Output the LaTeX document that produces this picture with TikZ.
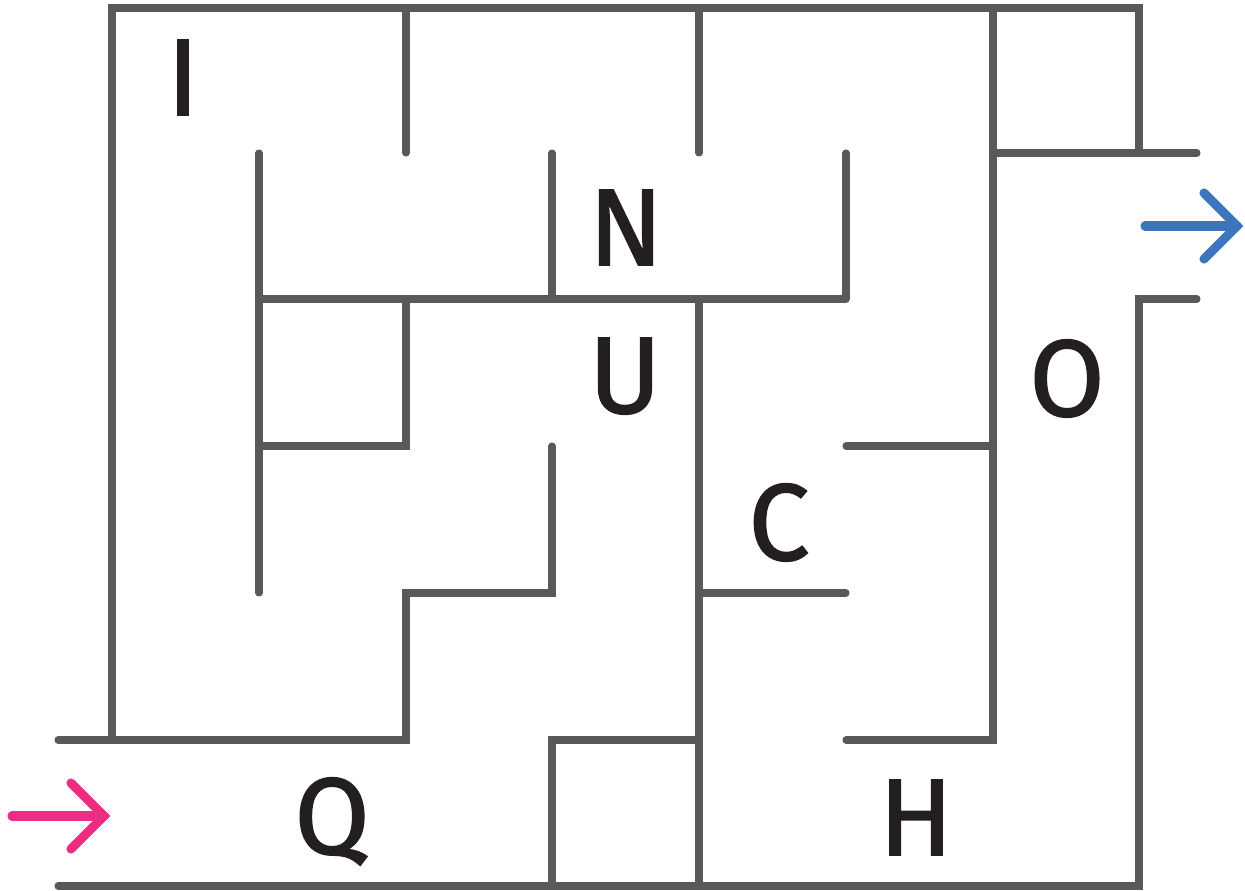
\documentclass[tikz,border=0pt]{standalone}
\usepackage{fontspec}
\newfontfamily\lab[RawFeature={embolden=1.5}]{Fira Sans}
\definecolor{wall}{HTML}{58595B}
\definecolor{ink}{HTML}{231F20}
\definecolor{inarrow}{HTML}{EE2C83}
\definecolor{outarrow}{HTML}{3C75BC}
\tikzset{
  wallline/.style={draw=wall, line width=4pt, line cap=round, line join=miter},
  arrowline/.style={line width=5.2pt, line cap=round, line join=miter},
  letter/.style={anchor=base, inner sep=0pt, text=ink, font=\lab\fontsize{62}{62}\selectfont}
}
\begin{document}
\begin{tikzpicture}[x=0.02cm, y=-0.02cm]
\useasboundingbox (0,0) rectangle (1245,890);
% outer walls
\draw[wallline] (112,740) -- (112,8) -- (1139,8) -- (1139,153);
\draw[wallline] (58,740) -- (406,740) -- (406,593) -- (552,593) -- (552,446);
\draw[wallline] (58,886) -- (1139,886) -- (1139,299) -- (1197,299);
\draw[wallline] (993,153) -- (1197,153);
\draw[wallline] (993,8) -- (993,740) -- (846,740);
\draw[wallline] (846,446) -- (993,446);
% inner walls
\draw[wallline] (406,8) -- (406,153);
\draw[wallline] (699,8) -- (699,153);
\draw[wallline] (259,153) -- (259,593);
\draw[wallline] (552,153) -- (552,299);
\draw[wallline] (846,153) -- (846,299);
\draw[wallline] (259,299) -- (846,299);
\draw[wallline] (406,299) -- (406,446) -- (259,446);
\draw[wallline] (699,299) -- (699,886);
\draw[wallline] (699,593) -- (846,593);
\draw[wallline] (552,886) -- (552,740) -- (699,740);
% arrows
\coordinate (inS) at (12,816);
\coordinate (inT) at (104,816);
\coordinate (outS) at (1145,226);
\coordinate (outT) at (1237,226);
\draw[arrowline, draw=inarrow] (inS) -- (inT);
\draw[arrowline, draw=inarrow] ([shift={(-33,-33)}]inT) -- (inT) -- ([shift={(-33,33)}]inT);
\draw[arrowline, draw=outarrow] (outS) -- (outT);
\draw[arrowline, draw=outarrow] ([shift={(-33,-33)}]outT) -- (outT) -- ([shift={(-33,33)}]outT);
% labels
\node[letter] (lI) at (183,115) {I};
\node[letter] (lN) at (626,265) {N};
\node[letter] (lU) at (625,413) {U};
\node[letter] (lO) at (1067,416) {O};
\node[letter] (lC) at (779,560) {C};
\node[letter] (lQ) at (332,854) {Q};
\node[letter] (lH) at (916,855) {H};
\end{tikzpicture}
\end{document}
